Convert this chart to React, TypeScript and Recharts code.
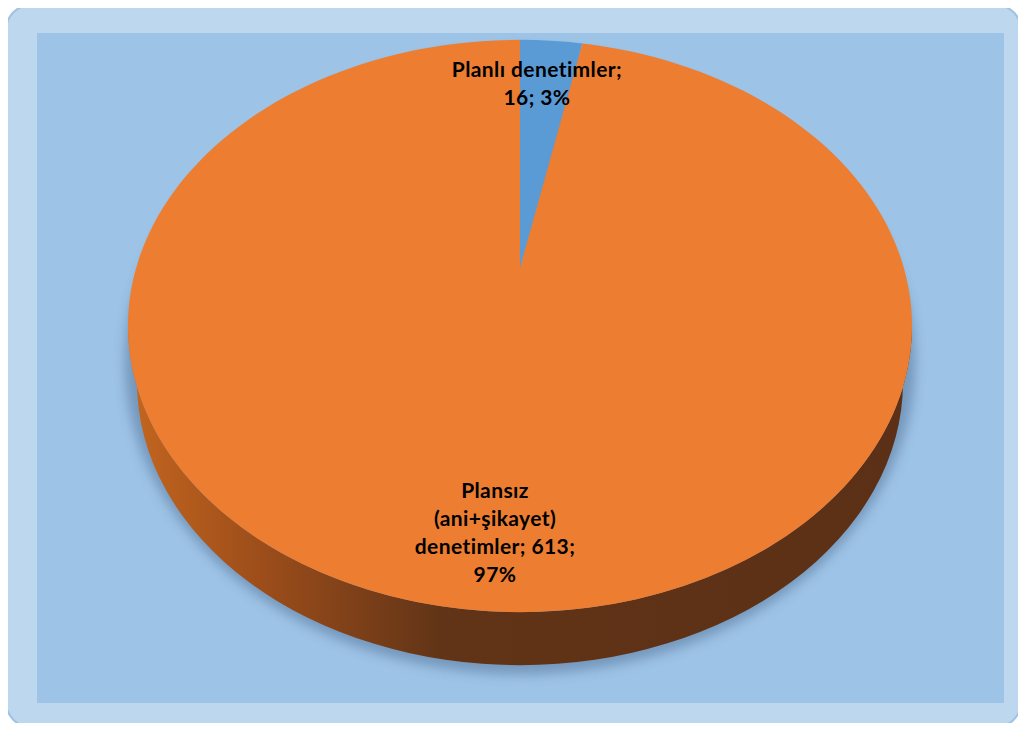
import { Cell, Pie, PieChart } from "recharts";

const categories = ["Planlı denetimler", "Plansız (ani+şikayet) denetimler"];
const counts = [16, 613];
const sliceColors = ["#5B9BD5", "#ED7D31"];

// max characters per label line, like Excel's wrapping
const wrapWidths = [18, 16];
// label anchor offsets from the pie centre
const labelOffsets = [
  { dx: 17, dy: -249 },
  { dx: -25, dy: 172 }
];

const data = categories.map((name, i) => ({ name, value: counts[i] }));
const total = counts.reduce((a, b) => a + b, 0);

const CX = 520;
const CY = 326;
const R = 392;
const ELLIPSE = 0.73; // vertical squash of the pie top
const DEPTH = 56; // thickness of the 3D side
const APEX_DY = -58; // perspective shift of the centre point
const BOTTOM_SHRINK = 9; // bottom rim a bit narrower (perspective)

function wrap(text: string, max: number) {
  const lines: string[] = [];
  let cur = "";
  text.split(" ").forEach((w) => {
    if (!cur) cur = w;
    else if ((cur + " " + w).length <= max) cur += " " + w;
    else {
      lines.push(cur);
      cur = w;
    }
  });
  if (cur) lines.push(cur);
  return lines;
}

function EllipseSector(props: any) {
  const { cx, cy, outerRadius, startAngle, endAngle, fill } = props;
  const rx = outerRadius;
  const ry = outerRadius * ELLIPSE;
  const pt = (deg: number) => {
    const a = (deg * Math.PI) / 180;
    return [cx + rx * Math.cos(a), cy - ry * Math.sin(a)];
  };
  const [sx, sy] = pt(startAngle);
  const [ex, ey] = pt(endAngle);
  const large = Math.abs(startAngle - endAngle) > 180 ? 1 : 0;
  const ax = cx;
  const ay = cy + APEX_DY;
  const top = `M${ax},${ay} L${sx},${sy} A${rx},${ry} 0 ${large} 1 ${ex},${ey} Z`;

  const lo = Math.min(startAngle, endAngle);
  const hi = Math.max(startAngle, endAngle);
  const coversFront = lo <= -90 && hi >= -90;
  const rx2 = rx - BOTTOM_SHRINK;
  const ry2 = ry - 3;
  const side =
    `M${cx - rx},${cy} A${rx},${ry} 0 0 0 ${cx + rx},${cy} ` +
    `L${cx + rx2},${cy + DEPTH} A${rx2},${ry2} 0 0 1 ${cx - rx2},${cy + DEPTH} Z`;

  return (
    <g>
      {coversFront && (
        <>
          <defs>
            <linearGradient
              id="sideGrad"
              gradientUnits="userSpaceOnUse"
              x1={cx - rx}
              x2={cx + rx}
              y1={0}
              y2={0}
            >
              <stop offset="0%" stopColor="#C4661F" />
              <stop offset="18%" stopColor="#9A4C1A" />
              <stop offset="40%" stopColor="#613417" />
              <stop offset="100%" stopColor="#5C3016" />
            </linearGradient>
          </defs>
          <path d={side} fill="url(#sideGrad)" />
        </>
      )}
      <path d={top} fill={fill} />
    </g>
  );
}

function SliceLabel(props: any) {
  const { cx, cy, index, value } = props;
  const pct = Math.round((value / total) * 100);
  const text = `${categories[index]}; ${value}; ${pct}%`;
  const lines = wrap(text, wrapWidths[index]);
  const off = labelOffsets[index];
  return (
    <text
      x={cx + off.dx}
      y={cy + off.dy}
      textAnchor="middle"
      fill="#000"
      fontFamily="Lato, 'Open Sans', sans-serif"
      fontWeight="bold"
      fontSize={21}
      letterSpacing={0.4}
    >
      {lines.map((l, i) => (
        <tspan key={i} x={cx + off.dx} dy={i === 0 ? 0 : 28}>
          {l}
        </tspan>
      ))}
    </text>
  );
}

export default function App() {
  const ry = R * ELLIPSE;
  return (
    <div style={{ position: "relative", width: 1026, height: 731, margin: -8 }}>
      <div
        style={{
          position: "absolute",
          left: 5,
          top: 4,
          width: 1013,
          height: 720,
          background: "#BDD7EE",
          border: "2px solid #9DC3E6",
          borderRadius: 26
        }}
      />
      <div
        style={{
          position: "absolute",
          left: 37,
          top: 33,
          width: 967,
          height: 670,
          background: "#9DC3E6"
        }}
      />
      {/* soft drop shadow under the pie */}
      <div
        style={{
          position: "absolute",
          left: CX - R - 3,
          top: CY - ry + 10,
          width: 2 * R + 6,
          height: 2 * ry + DEPTH - 4,
          borderRadius: "50%",
          background: "rgba(40,70,110,0.35)",
          filter: "blur(6px)"
        }}
      />
      <div style={{ position: "absolute", left: 0, top: 0 }}>
        <PieChart width={1026} height={731} margin={{ top: 0, right: 0, bottom: 0, left: 0 }}>
          <Pie
            data={data}
            dataKey="value"
            nameKey="name"
            cx={CX}
            cy={CY}
            outerRadius={R}
            startAngle={90}
            endAngle={-270}
            stroke="none"
            labelLine={false}
            label={SliceLabel}
            shape={EllipseSector}
            activeShape={EllipseSector}
            inactiveShape={EllipseSector}
            isAnimationActive={false}
          >
            {data.map((d, i) => (
              <Cell key={d.name} fill={sliceColors[i]} />
            ))}
          </Pie>
        </PieChart>
      </div>
    </div>
  );
}
